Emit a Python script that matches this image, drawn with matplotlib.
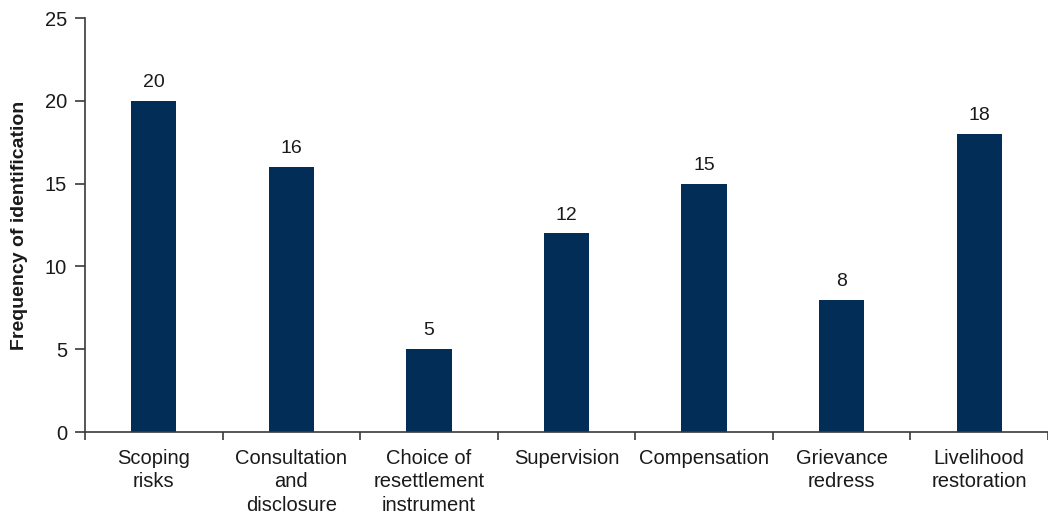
import matplotlib
matplotlib.use("Agg")
import matplotlib.pyplot as plt
import numpy as np

categories = [
    "Scoping\nrisks",
    "Consultation\nand\ndisclosure",
    "Choice of\nresettlement\ninstrument",
    "Supervision",
    "Compensation",
    "Grievance\nredress",
    "Livelihood\nrestoration",
]
frequencies = [20, 16, 5, 12, 15, 8, 18]
y_ticks = [0, 5, 10, 15, 20, 25]

plt.rcParams["font.family"] = ["Liberation Sans", "DejaVu Sans"]

fig = plt.figure(figsize=(10.48, 5.16), dpi=100)
ax = fig.add_axes([85 / 1048, 84 / 516, 1 - 85 / 1048, 414 / 516])

bar_color = "#022d56"
axis_color = "#3a3a3a"
text_color = "#1a1a1a"
x = np.arange(len(categories))
ax.bar(x, frequencies, width=0.33, color=bar_color, zorder=2)

for xi, v in zip(x, frequencies):
    ax.annotate(str(v), (xi, v), xytext=(0, 7), textcoords="offset points",
                ha="center", va="bottom", fontsize=14, color=text_color)

ax.set_ylim(0, 25)
ax.set_yticks(y_ticks)
ax.set_xlim(-0.5, 6.45)

# Ticks on the x axis sit at the category boundaries
ax.set_xticks(np.arange(len(categories) + 1) - 0.5)
ax.set_xticklabels([])
ax.set_xticks(x, minor=True)
ax.set_xticklabels(categories, minor=True, fontsize=14.5, color=text_color,
                   linespacing=1.3, va="top")
ax.tick_params(axis="x", which="minor", length=0, pad=12)
ax.tick_params(axis="x", which="major", length=6, width=1.2, color=axis_color)
ax.tick_params(axis="y", length=7, width=1.2, color=axis_color,
               labelsize=14.5, labelcolor=text_color, pad=6)

for side in ("top", "right"):
    ax.spines[side].set_visible(False)
for side in ("left", "bottom"):
    ax.spines[side].set_color(axis_color)
    ax.spines[side].set_linewidth(1.2)

ax.set_ylabel("Frequency of identification", fontsize=14, fontweight="bold",
              color=text_color, labelpad=12)

fig.savefig("out.png", dpi=100)
